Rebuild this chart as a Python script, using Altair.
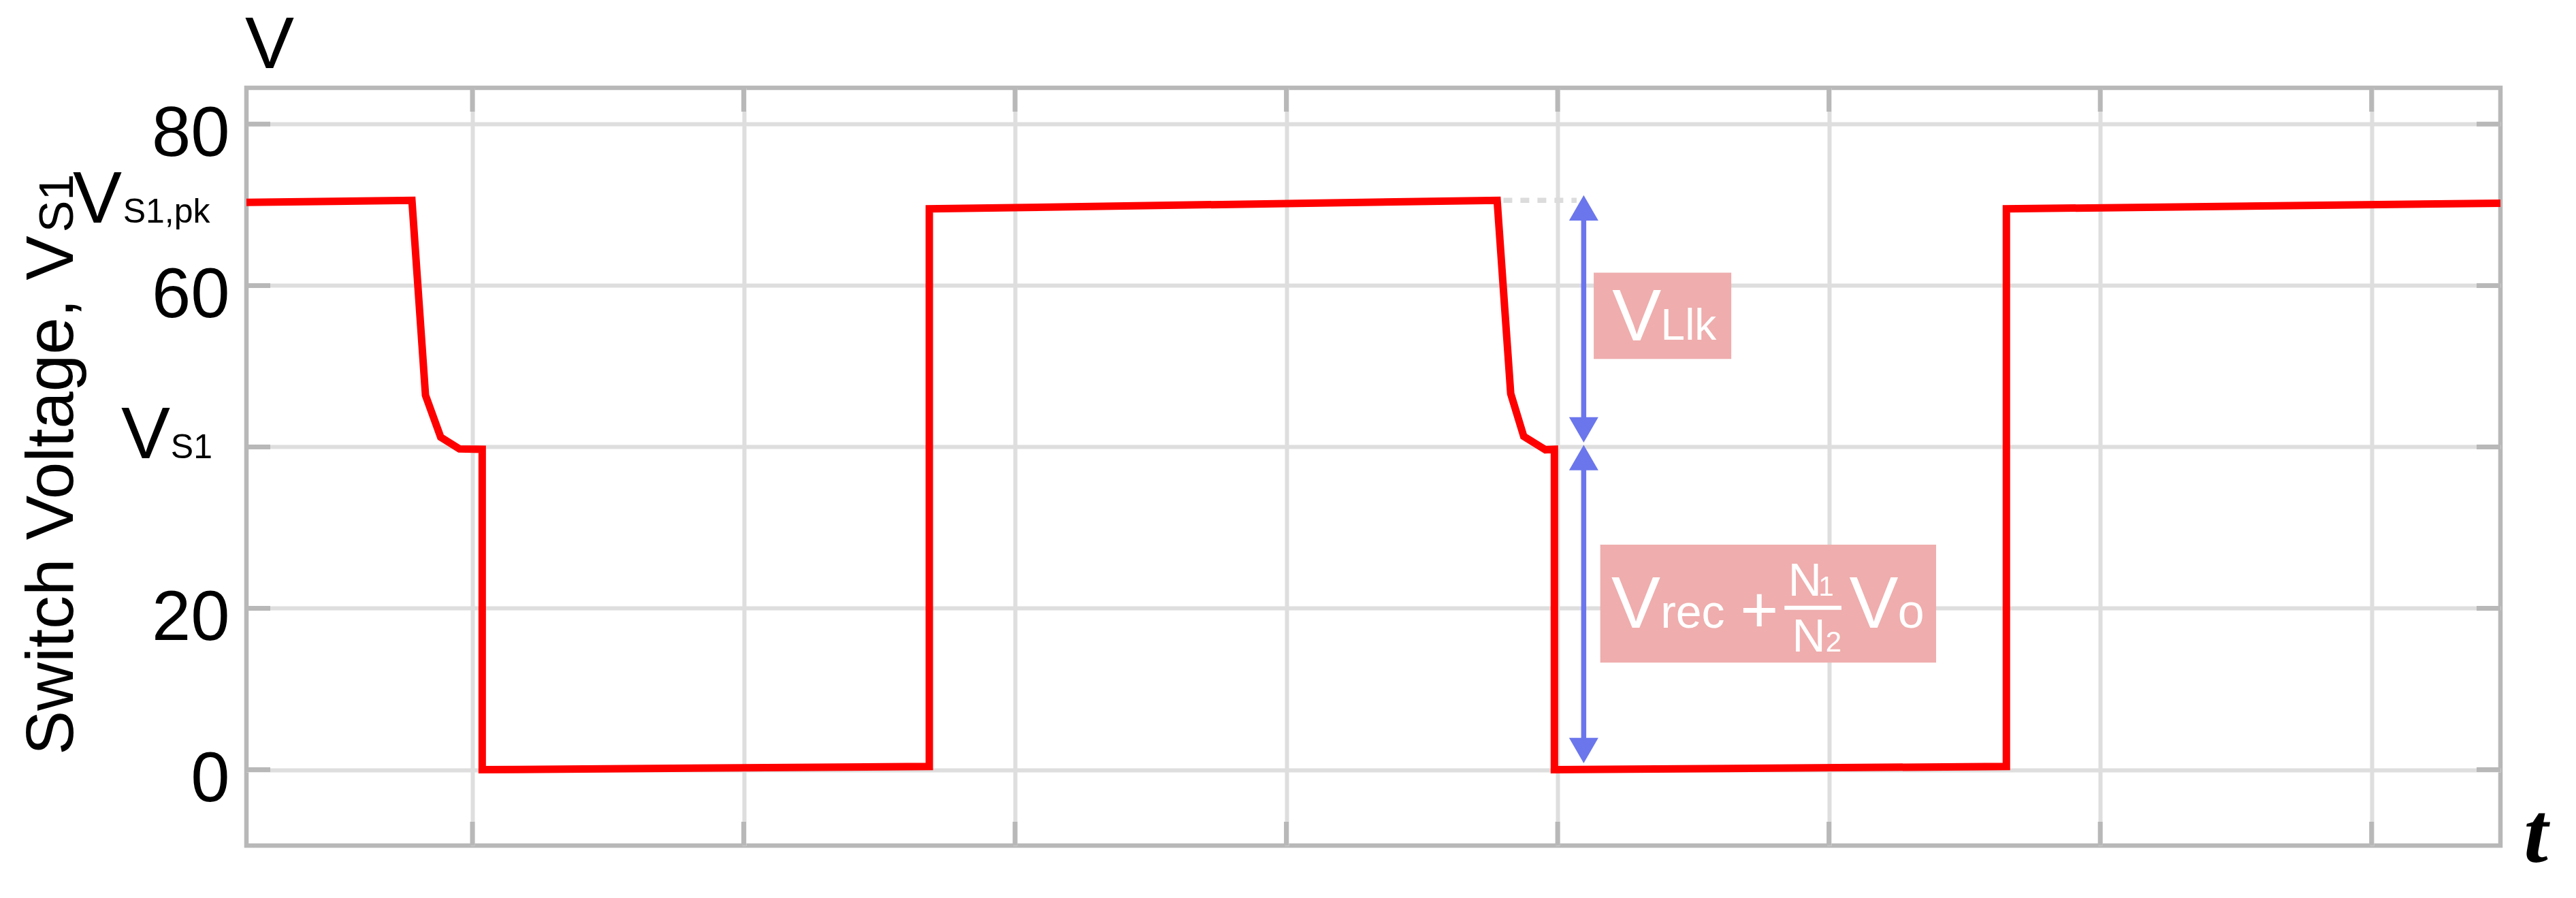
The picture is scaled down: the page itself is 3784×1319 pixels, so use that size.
import math
import altair as alt
import pandas as pd

# ---------------- data ----------------
# switch voltage waveform (time in grid units, voltage in V)
time = [-0.833, -0.223, -0.173, -0.117, -0.048, 0.036, 0.036, 1.684, 1.684,
        3.777, 3.827, 3.875, 3.955, 3.988, 3.988, 5.654, 5.654, 7.475]
voltage = [70.3, 70.55, 46.4, 41.2, 39.75, 39.7, 0.0, 0.4, 69.5,
           70.55, 46.6, 41.3, 39.65, 39.7, 0.0, 0.4, 69.5, 70.2]

x_grid = [0, 1, 2, 3, 4, 5, 6, 7]
y_ticks = [0, 20, 40, 60, 80]

v_pk = 70.55           # V_S1,pk level (dotted guide)
t_dash = [3.80, 4.07]  # dotted guide extent
t_arrow = 4.096        # dimension arrows position
arrow_up_tips = [71.18, 40.25]
arrow_down_tips = [40.55, 0.8]

box_t1 = [4.133, 4.157]
box_t2 = [4.640, 5.395]
box_v1 = [50.9, 13.26]
box_v2 = [61.6, 27.88]

frac_t = [4.836, 5.046]
frac_v = 20.06

# ---------------- layout / style ----------------
W, H = 3311, 1113
X_DOMAIN = [-0.833, 7.475]
Y_DOMAIN = [-9.405, 84.5]
px_x = W / (X_DOMAIN[1] - X_DOMAIN[0])
px_y = H / (Y_DOMAIN[1] - Y_DOMAIN[0])

FONT = "Liberation Sans"
GRID = "#dedede"
FRAME = "#b8b8b8"
RED = "#ff0000"
BLUE = "#6b76ec"
PINK = "#efadad"

xs = alt.Scale(domain=X_DOMAIN, nice=False, zero=False)
ys = alt.Scale(domain=Y_DOMAIN, nice=False, zero=False)

AX_X = alt.Axis(values=x_grid, grid=True, gridColor=GRID, gridWidth=6,
                labels=False, ticks=False, domain=False, title=None)
AX_Y = alt.Axis(values=y_ticks, grid=True, gridColor=GRID, gridWidth=6,
                ticks=False, tickSize=0, domain=False, title=None,
                labelFont=FONT, labelFontSize=103, labelColor="#000000",
                labelPadding=25, labelOffset=15, labelBaseline="middle",
                labelOverlap=False,
                labelExpr="datum.value == 40 ? '' : datum.label")


def X(field="t"):
    return alt.X(f"{field}:Q", scale=xs, axis=AX_X)


def Y(field="v"):
    return alt.Y(f"{field}:Q", scale=ys, axis=AX_Y)


# ---------------- waveform ----------------
wave = pd.DataFrame({"t": time, "v": voltage, "i": list(range(len(time)))})

line = alt.Chart(wave).mark_line(
    color=RED, strokeWidth=11, strokeJoin="miter", strokeMiterLimit=30
).encode(x=X(), y=Y(), order="i:Q")

# ---------------- inward ticks on the frame ----------------
tl = 35
dxt, dyt = tl / px_x, tl / px_y
tick_rows = []
for t in x_grid:
    tick_rows.append(dict(a=t, b=t, c=Y_DOMAIN[0], d=Y_DOMAIN[0] + dyt))
    tick_rows.append(dict(a=t, b=t, c=Y_DOMAIN[1], d=Y_DOMAIN[1] - dyt))
for v in y_ticks:
    tick_rows.append(dict(a=X_DOMAIN[0], b=X_DOMAIN[0] + dxt, c=v, d=v))
    tick_rows.append(dict(a=X_DOMAIN[1] - dxt, b=X_DOMAIN[1], c=v, d=v))
ticks = alt.Chart(pd.DataFrame(tick_rows)).mark_rule(
    color=FRAME, strokeWidth=7
).encode(x=X("a"), x2="b:Q", y=Y("c"), y2="d:Q")

# ---------------- annotation boxes ----------------
boxes = alt.Chart(pd.DataFrame({"t1": box_t1, "t2": box_t2, "v1": box_v1, "v2": box_v2})).mark_rect(
    color=PINK, opacity=1
).encode(x=X("t1"), x2="t2:Q", y=Y("v1"), y2="v2:Q")

frac = alt.Chart(pd.DataFrame({"t1": [frac_t[0]], "t2": [frac_t[1]], "v": [frac_v]})).mark_rule(
    color="white", strokeWidth=6
).encode(x=X("t1"), x2="t2:Q", y=Y("v"))

# ---------------- dotted guide + dimension arrows ----------------
dotted = alt.Chart(pd.DataFrame({"t1": [t_dash[0]], "t2": [t_dash[1]], "v": [v_pk]})).mark_rule(
    color="#dcdcdc", strokeWidth=7.5, strokeDash=[13, 12]
).encode(x=X("t1"), x2="t2:Q", y=Y("v"))

tri_w = 43.0
tri_h = math.sqrt(3) / 2 * tri_w / 2   # centre-to-tip distance in px
hv = tri_h / px_y
stem = pd.DataFrame({
    "t": [t_arrow, t_arrow],
    "v1": [arrow_up_tips[0] - hv, arrow_up_tips[1] - hv],
    "v2": [arrow_down_tips[0] + hv, arrow_down_tips[1] + hv],
})
stems = alt.Chart(stem).mark_rule(color=BLUE, strokeWidth=7.5).encode(
    x=X("t"), y=Y("v1"), y2="v2:Q")

ups = alt.Chart(pd.DataFrame({"t": [t_arrow] * 2, "v": arrow_up_tips})).mark_point(
    shape="triangle-up", size=tri_w ** 2, filled=True, color=BLUE, opacity=1,
    strokeWidth=0, yOffset=tri_h
).encode(x=X(), y=Y())
downs = alt.Chart(pd.DataFrame({"t": [t_arrow] * 2, "v": arrow_down_tips})).mark_point(
    shape="triangle-down", size=tri_w ** 2, filled=True, color=BLUE, opacity=1,
    strokeWidth=0, yOffset=-tri_h
).encode(x=X(), y=Y())

# ---------------- text annotations (anchored in data space) ----------------
black_texts = pd.DataFrame([
    dict(text="V", t=-0.838, v=86.93, size=108),
    dict(text="V", t=-1.473, v=67.78, size=108),
    dict(text="S1,pk", t=-1.288, v=67.78, size=50),
    dict(text="V", t=-1.295, v=38.59, size=108),
    dict(text="S1", t=-1.112, v=38.59, size=50),
])
white_texts = pd.DataFrame([
    dict(text="V", t=4.201, v=53.19, size=108),
    dict(text="Llk", t=4.380, v=53.27, size=64),
    dict(text="V", t=4.198, v=17.59, size=108),
    dict(text="rec", t=4.379, v=17.59, size=68),
    dict(text="+", t=4.673, v=17.0, size=96),
    dict(text="N", t=4.850, v=21.55, size=68),
    dict(text="1", t=4.962, v=21.55, size=40),
    dict(text="N", t=4.864, v=14.66, size=68),
    dict(text="2", t=4.988, v=14.66, size=42),
    dict(text="V", t=5.075, v=17.59, size=108),
    dict(text="o", t=5.254, v=17.59, size=70),
])
title_texts = pd.DataFrame([
    dict(text="Switch Voltage, V", t=-1.473, v=1.81, size=98),
    dict(text="S1", t=-1.473, v=66.6, size=70),
])
t_label = pd.DataFrame([dict(text="t", t=7.561, v=-11.43, size=128)])


def text_layer(df, color, **kw):
    return alt.Chart(df).mark_text(
        align="left", baseline="alphabetic", color=color, font=FONT, **kw
    ).encode(x=X(), y=Y(), text="text:N", size=alt.Size("size:Q", scale=None))


txt_black = text_layer(black_texts, "#000000")
txt_white = text_layer(white_texts, "#ffffff")
txt_title = text_layer(title_texts, "#000000", angle=270)
txt_t = alt.Chart(t_label).mark_text(
    align="left", baseline="alphabetic", color="#000000",
    font="Liberation Serif", fontStyle="italic", fontWeight="bold"
).encode(x=X(), y=Y(), text="text:N", size=alt.Size("size:Q", scale=None))

chart = alt.layer(
    line, boxes, frac, dotted, stems, ups, downs, ticks,
    txt_black, txt_white, txt_title, txt_t,
).properties(
    width=W, height=H,
    padding={"left": 354, "top": 121, "right": 95, "bottom": 60},
    autosize=alt.AutoSizeParams(type="none"),
    background="white",
).configure_view(stroke=FRAME, strokeWidth=6.5)

chart.save("out.html", embed_options={"renderer": "svg", "actions": False})
